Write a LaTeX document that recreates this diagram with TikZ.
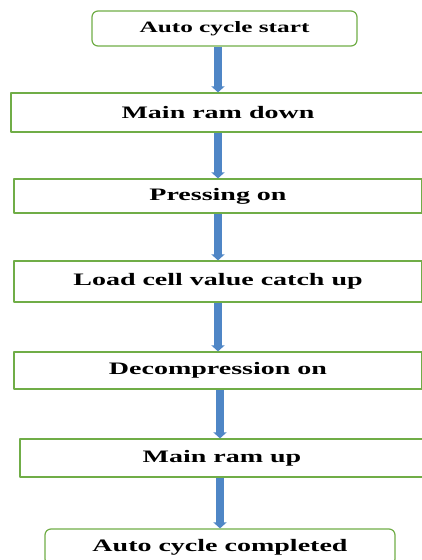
\documentclass[tikz,border=0pt]{standalone}
\usepackage{fontspec}
\setmainfont{Liberation Serif}[FakeStretch=1.6]
\usetikzlibrary{arrows.meta}
\definecolor{boxgreen}{HTML}{70AD47}
\definecolor{flowblue}{HTML}{4F86C6}
\begin{document}
\begin{tikzpicture}[>=latex,line join=bevel,
  stepbox/.style={draw=boxgreen,line width=1.2bp,rectangle,inner sep=0pt,
    font=\bfseries\fontsize{17.5bp}{20bp}\selectfont},
  endbox/.style={stepbox,rounded corners=6bp},
  flow/.style={draw=flowblue,line width=7.5bp,-{Triangle[width=13bp,length=6bp]}},
]
\useasboundingbox (0bp,0bp) rectangle (422bp,560bp);
%%
\node (auto_start) at (224.5bp,531.5bp) [endbox,minimum width=265bp,minimum height=35bp,
    font=\bfseries\fontsize{15.8bp}{18bp}\selectfont] {Auto cycle start};
  \node (ram_down) at (218bp,447.5bp) [stepbox,minimum width=414bp,minimum height=39bp] {Main ram down};
  \node (press_on) at (218bp,364bp) [stepbox,minimum width=408bp,minimum height=34bp] {Pressing on};
  \node (load_cell) at (218bp,278.5bp) [stepbox,minimum width=408bp,minimum height=41bp] {Load cell value catch up};
  \node (decomp_on) at (218bp,189.5bp) [stepbox,minimum width=408bp,minimum height=37bp] {Decompression on};
  \node (ram_up) at (222bp,102bp) [stepbox,minimum width=404bp,minimum height=38bp] {Main ram up};
  \node (auto_done) at (220bp,13bp) [endbox,minimum width=350bp,minimum height=36bp] {Auto cycle completed};
  \draw [flow] (auto_start.south -| ram_down.north) -- (ram_down.north);
  \draw [flow] (ram_down.south) -- (press_on.north);
  \draw [flow] (press_on.south) -- (load_cell.north);
  \draw [flow] (load_cell.south) -- (decomp_on.north);
  \draw [flow] (decomp_on.south -| auto_done.north) -- (ram_up.north -| auto_done.north);
  \draw [flow] (ram_up.south -| auto_done.north) -- (auto_done.north);
%
\end{tikzpicture}
\end{document}
